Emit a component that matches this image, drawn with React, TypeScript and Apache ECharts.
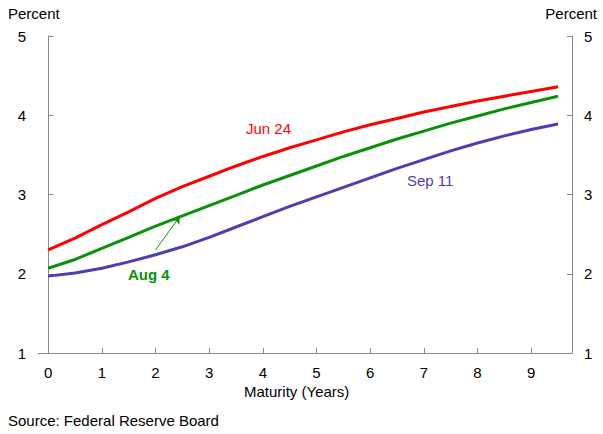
import { useEffect, useRef } from 'react'
import * as echarts from 'echarts'

const maturities = [0, 0.5, 1, 1.5, 2, 2.5, 3, 3.5, 4, 4.5, 5, 5.5, 6, 6.5, 7, 7.5, 8, 8.5, 9, 9.5]
const jun24 = [2.30, 2.45, 2.62, 2.78, 2.95, 3.10, 3.23, 3.36, 3.48, 3.59, 3.69, 3.79, 3.88, 3.96, 4.04, 4.11, 4.18, 4.24, 4.30, 4.36]
const aug4 = [2.07, 2.18, 2.32, 2.46, 2.60, 2.73, 2.86, 2.99, 3.12, 3.24, 3.36, 3.48, 3.59, 3.70, 3.80, 3.90, 3.99, 4.08, 4.16, 4.24]
const sep11 = [1.97, 2.01, 2.07, 2.15, 2.24, 2.34, 2.46, 2.59, 2.72, 2.85, 2.97, 3.09, 3.21, 3.33, 3.44, 3.55, 3.65, 3.74, 3.82, 3.89]
const xTicks = [0, 1, 2, 3, 4, 5, 6, 7, 8, 9]

const font = 'Arial, "Liberation Sans", sans-serif'
const pair = (ys: number[]) => maturities.map((m, i) => [m, ys[i]])

const yAxisBase = {
  type: 'value' as const,
  min: 1,
  max: 5,
  interval: 1,
  axisLine: { show: true, lineStyle: { color: '#888' } },
  axisTick: { show: true, inside: true, length: 5, lineStyle: { color: '#888' } },
  splitLine: { show: false },
  axisLabel: { color: '#000', fontSize: 15, fontFamily: font, margin: 12 },
}

export default function App() {
  const ref = useRef<HTMLDivElement>(null)

  useEffect(() => {
    const chart = echarts.init(ref.current, null, { renderer: 'svg' })
    chart.setOption({
      animation: false,
      grid: { left: 38, right: 31, top: 36, bottom: 81 },
      xAxis: {
        type: 'value',
        min: -0.19,
        max: 9.76,
        axisLine: { show: true, onZero: false, lineStyle: { color: '#888' } },
        axisTick: { show: true, inside: true, length: 5, customValues: xTicks, lineStyle: { color: '#888' } },
        axisLabel: { customValues: xTicks, color: '#000', fontSize: 15, fontFamily: font, margin: 12 },
        splitLine: { show: false },
      },
      yAxis: [
        { ...yAxisBase, position: 'left' },
        { ...yAxisBase, position: 'right' },
      ],
      series: [
        { type: 'line', data: pair(jun24), showSymbol: false, lineStyle: { color: '#ff0000', width: 3 } },
        {
          type: 'line', data: pair(aug4), showSymbol: false, lineStyle: { color: '#0a900a', width: 3 },
          markLine: {
            silent: true,
            symbol: ['none', 'arrow'],
            symbolSize: 7,
            label: { show: false },
            lineStyle: { color: '#0a900a', width: 1, type: 'solid' },
            data: [[{ coord: [2.0, 2.3] }, { coord: [2.45, 2.72] }]],
          },
        },
        { type: 'line', data: pair(sep11), showSymbol: false, lineStyle: { color: '#4a3fb0', width: 3 } },
      ],
      graphic: [
        { type: 'text', left: 8, top: 6, style: { text: 'Percent', fontSize: 15, fontFamily: font, fill: '#000' } },
        { type: 'text', right: 6, top: 6, style: { text: 'Percent', fontSize: 15, fontFamily: font, fill: '#000' } },
        { type: 'text', left: 244, top: 384, style: { text: 'Maturity (Years)', fontSize: 15, fontFamily: font, fill: '#000' } },
        { type: 'text', left: 8, top: 413, style: { text: 'Source: Federal Reserve Board', fontSize: 15, fontFamily: font, fill: '#000' } },
        { type: 'text', left: 246, top: 121, style: { text: 'Jun 24', fontSize: 15, fontFamily: font, fill: '#ff0000' } },
        { type: 'text', left: 407, top: 173, style: { text: 'Sep 11', fontSize: 15, fontFamily: font, fill: '#4a3fb0' } },
        { type: 'text', left: 128, top: 267, style: { text: 'Aug 4', fontSize: 15, fontFamily: font, fill: '#0a900a', fontWeight: 'bold' } },
      ],
    })
    return () => chart.dispose()
  }, [])

  return <div ref={ref} style={{ position: 'fixed', left: 0, top: 0, width: 603, height: 434, background: '#fff' }} />
}
